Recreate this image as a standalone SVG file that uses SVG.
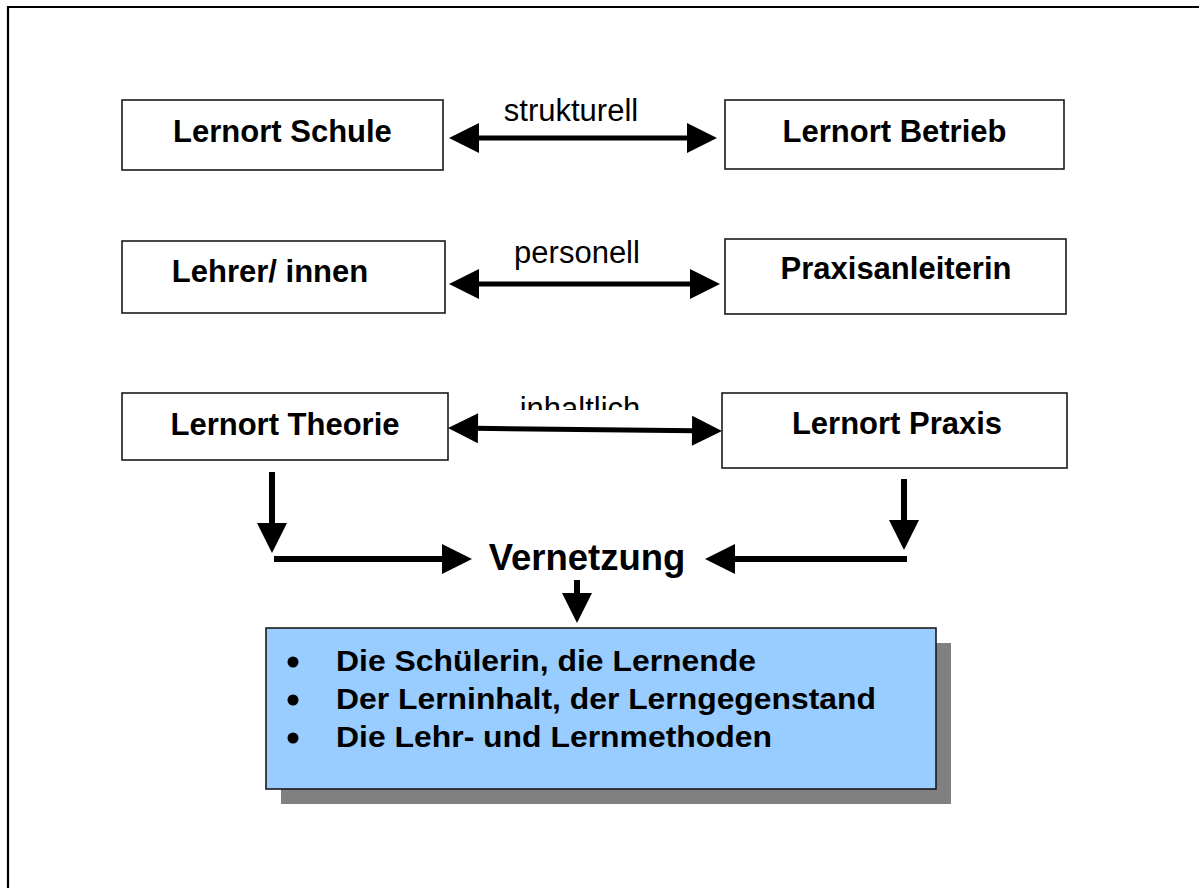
<svg xmlns="http://www.w3.org/2000/svg" xmlns:xlink="http://www.w3.org/1999/xlink" width="1199" height="888" viewBox="0 0 1199 888">
<style>
.box{fill:#fff;stroke:#1a1a1a;stroke-width:1.6}
.bt{font-family:"Liberation Sans",Arial,sans-serif;font-weight:bold;font-size:31px;fill:#000}
.lbl{font-family:"Liberation Sans",Arial,sans-serif;font-size:31px;fill:#000}
.ln{stroke:#000;stroke-width:5;fill:none}
.ln2{stroke:#000;stroke-width:6;fill:none}
.li{font-family:"Liberation Sans",Arial,sans-serif;font-weight:bold;font-size:30px;fill:#000}
</style>
<defs>
<path id="head" d="M0,0 L-30,-15 L-30,15 Z" fill="#000"/>
<clipPath id="clipInh"><rect x="400" y="370" width="400" height="40"/></clipPath>
</defs>
<rect width="1199" height="888" fill="#fff"/>
<g id="frame"><path d="M8,888 V7 H1199" fill="none" stroke="#000" stroke-width="2.2"/></g>

<g id="n-schule"><rect class="box" x="122" y="100" width="321" height="70"/><text class="bt" x="282.5" y="142" text-anchor="middle">Lernort Schule</text></g>
<g id="n-betrieb"><rect class="box" x="725" y="100" width="339" height="69"/><text class="bt" x="894.5" y="142" text-anchor="middle">Lernort Betrieb</text></g>
<g id="n-lehrer"><rect class="box" x="122" y="241" width="323" height="72"/><text class="bt" x="270" y="282" text-anchor="middle">Lehrer/ innen</text></g>
<g id="n-praxisanl"><rect class="box" x="725" y="239" width="341" height="75"/><text class="bt" x="896" y="279" text-anchor="middle">Praxisanleiterin</text></g>
<g id="n-theorie"><rect class="box" x="122" y="393" width="326" height="67"/><text class="bt" x="285" y="435" text-anchor="middle">Lernort Theorie</text></g>
<g id="n-praxis"><rect class="box" x="722" y="393" width="345" height="75"/><text class="bt" x="897" y="434" text-anchor="middle">Lernort Praxis</text></g>
<g id="n-vernetzung"><text x="587" y="570" text-anchor="middle" font-family="Liberation Sans, Arial, sans-serif" font-weight="bold" font-size="36.5">Vernetzung</text></g>
<g id="n-liste">
<rect x="281" y="643" width="670" height="161" fill="#808080"/>
<rect x="266" y="628" width="670" height="161" fill="#99ccff" stroke="#1a1a1a" stroke-width="1.6"/>
<circle cx="293" cy="662" r="5.5" fill="#000"/>
<circle cx="293" cy="700" r="5.5" fill="#000"/>
<circle cx="293" cy="738" r="5.5" fill="#000"/>
<text class="li" x="336" y="671" textLength="420" lengthAdjust="spacingAndGlyphs">Die Schülerin, die Lernende</text>
<text class="li" x="336" y="709" textLength="540" lengthAdjust="spacingAndGlyphs">Der Lerninhalt, der Lerngegenstand</text>
<text class="li" x="336" y="747" textLength="436" lengthAdjust="spacingAndGlyphs">Die Lehr- und Lernmethoden</text>
</g>

<g id="connectors">
<line class="ln" x1="476" y1="138" x2="690" y2="138"/>
<use xlink:href="#head" transform="translate(717,138)"/>
<use xlink:href="#head" transform="translate(449,138) rotate(180)"/>
<text class="lbl" x="571" y="121" text-anchor="middle">strukturell</text>

<line class="ln" x1="476" y1="284" x2="693" y2="284"/>
<use xlink:href="#head" transform="translate(720,284)"/>
<use xlink:href="#head" transform="translate(449,284) rotate(180)"/>
<text class="lbl" x="577" y="263" text-anchor="middle">personell</text>

<line class="ln" x1="475" y1="428.3" x2="695" y2="430.7"/>
<use xlink:href="#head" transform="translate(722,431) rotate(0.6)"/>
<use xlink:href="#head" transform="translate(448,428) rotate(180.6)"/>
<text class="lbl" x="580" y="419" text-anchor="middle" clip-path="url(#clipInh)">inhaltlich</text>

<line class="ln2" x1="272" y1="472" x2="272" y2="526"/>
<use xlink:href="#head" transform="translate(272,553) rotate(90)"/>
<line class="ln2" x1="274" y1="559" x2="445" y2="559"/>
<use xlink:href="#head" transform="translate(472,559)"/>

<line class="ln2" x1="904" y1="479" x2="904" y2="523"/>
<use xlink:href="#head" transform="translate(904,550) rotate(90)"/>
<line class="ln2" x1="907" y1="559" x2="732" y2="559"/>
<use xlink:href="#head" transform="translate(705,559) rotate(180)"/>

<line class="ln2" x1="577" y1="580" x2="577" y2="596"/>
<use xlink:href="#head" transform="translate(577,623) rotate(90)"/>
</g>
</svg>
